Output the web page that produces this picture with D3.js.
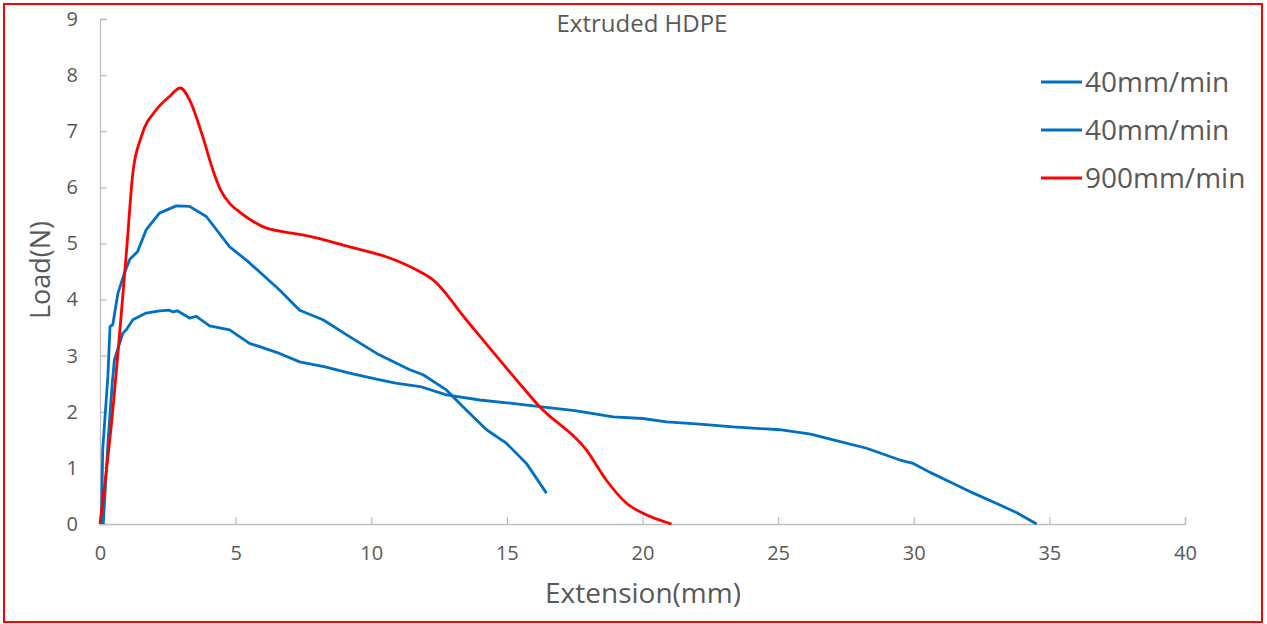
<!DOCTYPE html>
<html lang="en">
<head>
  <meta charset="UTF-8">
  <title>Extruded HDPE</title>
  <script src="https://cdn.jsdelivr.net/npm/d3@7"></script>
  <style>
    body { margin: 0; background: #fff; }
    text { font-family: "Open Sans", "Liberation Sans", sans-serif; fill: #595959; }
    .axis path, .axis line { stroke: #bfbfbf; stroke-width: 1.3; }
    .axis text { font-size: 20px; fill: #595959; font-family: "Open Sans", sans-serif; }
  </style>
</head>
<body>
<script>
  // series labels
  var seriesNames = ["40mm/min", "40mm/min", "900mm/min"];
  var seriesColors = ["#0070c0", "#0070c0", "#ff0000"];

  // 40mm/min, long run (extension mm, load N)
  var slowA_x = [0.12, 0.3, 0.45, 0.53, 0.84, 0.97, 1.21, 1.7, 2.2, 2.56, 2.69, 2.85, 3.3, 3.55, 4.04, 4.78, 5.51, 6.62, 7.36, 8.3, 9.2, 10.19, 10.9, 11.8, 12.77, 14.0, 15.0, 16.21, 17.5, 18.92, 20.0, 20.89, 22.11, 23.34, 25.06, 26.2, 27.03, 28.26, 29.49, 29.98, 30.6, 31.34, 32.2, 33.18, 33.8, 34.53];
  var slowA_y = [0.0, 1.5, 2.5, 2.92, 3.4, 3.46, 3.64, 3.76, 3.8, 3.81, 3.78, 3.8, 3.67, 3.7, 3.53, 3.46, 3.22, 3.04, 2.89, 2.8, 2.69, 2.58, 2.51, 2.45, 2.3, 2.21, 2.16, 2.09, 2.02, 1.91, 1.88, 1.82, 1.78, 1.73, 1.68, 1.6, 1.5, 1.35, 1.14, 1.08, 0.92, 0.75, 0.55, 0.34, 0.2, 0.0];

  // 40mm/min, short run
  var slowB_x = [0.05, 0.1, 0.17, 0.29, 0.37, 0.47, 0.66, 0.9, 1.1, 1.38, 1.7, 2.19, 2.81, 3.3, 3.92, 4.78, 5.45, 6.62, 7.36, 8.22, 9.2, 10.2, 11.42, 11.91, 12.77, 13.38, 14.25, 14.98, 15.72, 16.46];
  var slowB_y = [0.0, 1.32, 1.8, 2.63, 3.52, 3.55, 4.11, 4.47, 4.72, 4.85, 5.24, 5.54, 5.67, 5.66, 5.48, 4.94, 4.68, 4.17, 3.81, 3.64, 3.34, 3.04, 2.75, 2.66, 2.39, 2.09, 1.68, 1.44, 1.08, 0.55];

  // 900mm/min
  var fast_x = [0.0, 0.41, 0.98, 1.21, 1.52, 2.07, 2.56, 2.96, 3.3, 3.79, 4.16, 4.45, 4.8, 5.15, 6.0, 6.99, 7.6, 9.2, 10.68, 11.66, 12.28, 13.5, 15.35, 16.21, 17.93, 18.67, 19.41, 20.02, 21.07];
  var fast_y = [0.0, 1.73, 4.88, 6.25, 6.9, 7.38, 7.62, 7.77, 7.56, 6.9, 6.31, 5.95, 5.7, 5.56, 5.3, 5.19, 5.14, 4.94, 4.74, 4.53, 4.35, 3.64, 2.57, 2.09, 1.32, 0.78, 0.37, 0.19, 0.0];

  var xTicks = [0, 5, 10, 15, 20, 25, 30, 35, 40];
  var yTicks = [0, 1, 2, 3, 4, 5, 6, 7, 8, 9];

  var W = 1267, H = 624;
  var plotLeft = 100, plotRight = 1185, plotTop = 19, plotBottom = 524;

  var svg = d3.select("body").append("svg").attr("width", W).attr("height", H);

  // outer red frame
  svg.append("rect")
    .attr("x", 4).attr("y", 4)
    .attr("width", 1258).attr("height", 618)
    .attr("fill", "none").attr("stroke", "#ff0000").attr("stroke-width", 2);

  let scaleX = d3.scaleLinear().domain([0, 40]).range([plotLeft, plotRight]);
  let scaleY = d3.scaleLinear().domain([0, 9]).range([plotBottom, plotTop]);

  // axes, ticks pointing into the plot
  let axisX = d3.axisBottom(scaleX).tickValues(xTicks).tickSizeInner(-7).tickSizeOuter(-7).tickPadding(22);
  svg.append("g").attr("class", "axis")
    .attr("transform", "translate(0," + plotBottom + ")")
    .call(axisX);

  let axisY = d3.axisLeft(scaleY).tickValues(yTicks).tickSizeInner(-7).tickSizeOuter(-7).tickPadding(22);
  svg.append("g").attr("class", "axis")
    .attr("transform", "translate(" + plotLeft + ",0)")
    .call(axisY);

  /* PLOT DATA */
  var series = [
    d3.zip(slowA_x, slowA_y),
    d3.zip(slowB_x, slowB_y),
    d3.zip(fast_x, fast_y)
  ];

  let lineLin = d3.line().x(d => scaleX(d[0])).y(d => scaleY(d[1]));
  let lineSmooth = d3.line().x(d => scaleX(d[0])).y(d => scaleY(d[1])).curve(d3.curveMonotoneX);

  series.forEach((s, i) => {
    svg.append("path")
      .attr("d", i == 2 ? lineSmooth(s) : lineLin(s))
      .attr("fill", "none")
      .attr("stroke", seriesColors[i])
      .attr("stroke-width", 2.8)
      .attr("stroke-linejoin", "round");
  });

  // titles
  svg.append("text")
    .attr("x", 642).attr("y", 32)
    .attr("text-anchor", "middle")
    .style("font-size", "24px")
    .text("Extruded HDPE");

  svg.append("text")
    .attr("x", 643).attr("y", 603)
    .attr("text-anchor", "middle")
    .style("font-size", "28px")
    .text("Extension(mm)");

  svg.append("text")
    .attr("transform", "translate(50,270) rotate(-90)")
    .attr("text-anchor", "middle")
    .style("font-size", "27px")
    .text("Load(N)");

  // legend
  var rowsY = [82, 130, 178];
  seriesNames.forEach((name, i) => {
    svg.append("line")
      .attr("x1", 1041).attr("x2", 1082)
      .attr("y1", rowsY[i]).attr("y2", rowsY[i])
      .attr("stroke", seriesColors[i]).attr("stroke-width", 2.8);
    svg.append("text")
      .attr("x", 1085).attr("y", rowsY[i] + 10)
      .style("font-size", "28px")
      .text(name);
  });
</script>
</body>
</html>
